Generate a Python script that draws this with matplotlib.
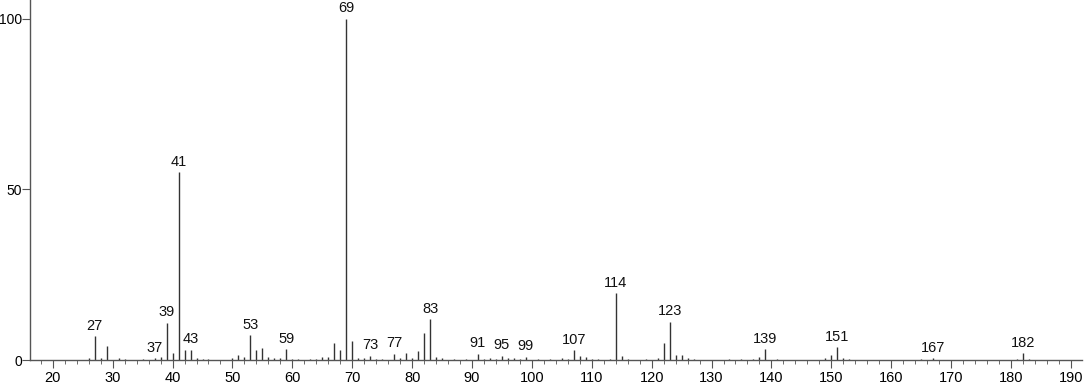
import matplotlib.pyplot as plt
from matplotlib.ticker import MultipleLocator

plt.rcParams['font.family'] = ['Liberation Sans', 'DejaVu Sans']

# m/z values and relative intensities
mz = [26, 27, 28, 29, 31, 32, 35, 37, 38, 39, 40, 41, 42, 43, 44, 45, 46,
      50, 51, 52, 53, 54, 55, 56, 57, 58, 59, 60, 61, 63, 64, 65, 66, 67, 68,
      69, 70, 71, 72, 73, 74, 75, 77, 78, 79, 80, 81, 82, 83, 84, 85, 87,
      89, 91, 92, 93, 94, 95, 96, 97, 98, 99, 101, 103, 105, 106, 107, 108,
      109, 110, 111, 113, 114, 115, 116, 119, 121, 122, 123, 124, 125, 126,
      127, 133, 135, 137, 138, 139, 141, 149, 150, 151, 152, 153, 165, 167,
      181, 182, 183]
intensity = [0.5, 7.0, 0.6, 4.1, 0.6, 0.3, 0.3, 0.6, 0.8, 10.9, 2.0, 55.1, 2.9,
             3.0, 0.6, 0.4, 0.3,
             0.5, 1.5, 0.8, 7.3, 2.9, 3.5, 0.8, 0.6, 0.5, 3.2, 0.4, 0.3, 0.4, 0.3,
             1.0, 0.8, 4.9, 2.9,
             100.0, 5.6, 0.7, 0.5, 1.3, 0.4, 0.3, 1.9, 0.6, 2.0, 0.6, 2.5, 7.9,
             12.0, 1.0, 0.5, 0.3,
             0.4, 1.8, 0.4, 0.5, 0.4, 1.2, 0.5, 0.6, 0.3, 1.0, 0.3, 0.4, 0.5,
             0.4, 2.9, 1.2,
             0.8, 0.4, 0.4, 0.4, 19.6, 1.2, 0.4, 0.3, 0.5, 4.9, 11.2, 1.5, 1.5,
             0.5,
             0.4, 0.3, 0.3, 0.3, 0.8, 3.2, 0.3, 0.5, 1.5, 3.8, 0.5, 0.3, 0.3,
             0.5,
             0.3, 2.0, 0.3]

labeled = [27, 37, 39, 41, 43, 53, 59, 69, 73, 77, 83, 91, 95, 99, 107,
           114, 123, 139, 151, 167, 182]

fig = plt.figure(figsize=(10.92, 3.84), dpi=100)
ax = fig.add_axes([0.0275, 0.0625, 0.963, 0.9375])

ax.vlines(mz, 0, intensity, color='#333333', linewidth=1.0)

for m, h in zip(mz, intensity):
    if m in labeled:
        ax.text(m, h + 1.0, str(m), ha='center', va='bottom', fontsize=10.5,
                color='#111111')

ax.set_xlim(16.2, 191.8)
ax.set_ylim(0, 105.5)

ax.xaxis.set_major_locator(MultipleLocator(10))
ax.xaxis.set_minor_locator(MultipleLocator(2))
ax.set_xticks(range(20, 191, 10))
ax.set_yticks([0, 50, 100])

for s in ['top', 'right']:
    ax.spines[s].set_visible(False)
for s in ['left', 'bottom']:
    ax.spines[s].set_color('#555555')
    ax.spines[s].set_linewidth(1.0)

ax.tick_params(axis='x', which='major', length=6, color='#555555',
               labelsize=10.5, pad=2)
ax.tick_params(axis='x', which='minor', length=3, color='#555555')
ax.tick_params(axis='y', which='major', length=5.5, color='#555555',
               labelsize=10, pad=0)

fig.savefig('out.png', dpi=100)
